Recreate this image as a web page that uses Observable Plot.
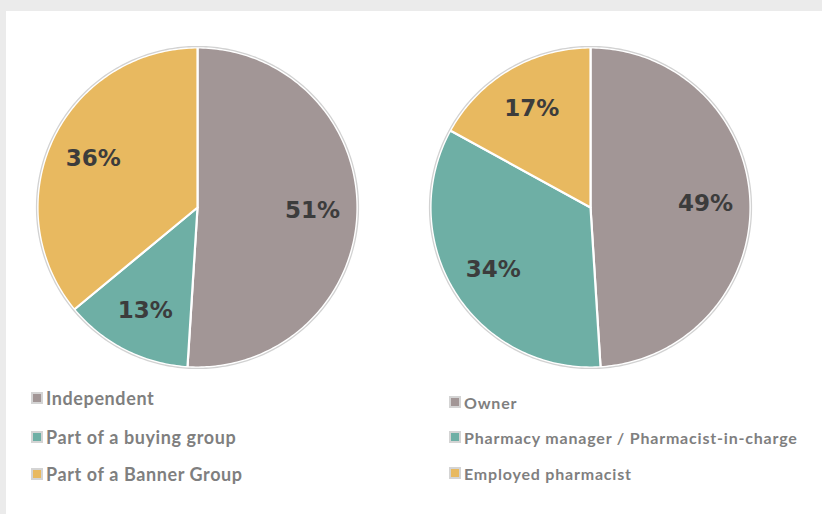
<!DOCTYPE html>
<html>
<head>
<meta charset="utf-8">
<script src="https://cdn.jsdelivr.net/npm/d3@7"></script>
<script src="https://cdn.jsdelivr.net/npm/@observablehq/plot@0.6"></script>
<style>
  html, body { margin: 0; padding: 0; width: 822px; height: 514px; overflow: hidden; background: #ebebeb; }
  #panel { position: absolute; left: 6px; top: 11px; width: 816px; height: 503px; background: #ffffff; }
  .pie { position: absolute; top: 42px; }
  .legend { position: absolute; font-family: Lato, "DejaVu Sans", sans-serif; font-weight: 700; color: #7f7f7f; }
  .legend .row { position: absolute; white-space: nowrap; display: flex; align-items: center; height: 20px; }
  .legend .sw { width: 8px; height: 8px; border: 2px solid #d4d4d4; margin-right: 3px; box-sizing: content-box; }
  #legL { font-size: 18px; letter-spacing: 0.6px; }
  #legR { font-size: 16px; letter-spacing: 0.8px; }
</style>
</head>
<body>
<div id="panel"></div>
<div id="pieL" class="pie" style="left:32px"></div>
<div id="pieR" class="pie" style="left:425px"></div>
<div id="legL" class="legend" style="left:31px;top:388px"></div>
<div id="legR" class="legend" style="left:449px;top:388px"></div>
<script>
// ---- data ----
const leftCategories = ["Independent", "Part of a buying group", "Part of a Banner Group"];
const leftValues = [51, 13, 36];
const rightCategories = ["Owner", "Pharmacy manager / Pharmacist-in-charge", "Employed pharmacist"];
const rightValues = [49, 34, 17];
const sliceColors = ["#a29696", "#6eafa5", "#e8b960"];

function slicePoints(categories, values) {
  const arcs = d3.pie().sort(null).value(d => d)(values);
  const pts = [];
  const labels = [];
  arcs.forEach((a, i) => {
    const key = categories[i];
    pts.push({key, x: 0, y: 0});
    const n = Math.max(2, Math.ceil((a.endAngle - a.startAngle) / (Math.PI / 180)));
    for (let k = 0; k <= n; k++) {
      const t = a.startAngle + (a.endAngle - a.startAngle) * k / n;
      pts.push({key, x: Math.sin(t), y: Math.cos(t)});
    }
    pts.push({key, x: 0, y: 0});
    const m = (a.startAngle + a.endAngle) / 2;
    labels.push({key, x: 0.72 * Math.sin(m), y: 0.72 * Math.cos(m), text: values[i] + "%"});
  });
  return {pts, labels};
}

function circlePoints(r) {
  return d3.range(0, 361).map(d => ({x: r * Math.sin(d * Math.PI / 180), y: r * Math.cos(d * Math.PI / 180)}));
}

function drawPie(el, categories, values) {
  const {pts, labels} = slicePoints(categories, values);
  const ext = 165 / 160;
  const chart = Plot.plot({
    width: 330, height: 330,
    margin: 0,
    x: {domain: [-ext, ext], axis: null},
    y: {domain: [-ext, ext], axis: null},
    color: {domain: categories, range: sliceColors},
    style: {background: "transparent"},
    marks: [
      Plot.line(pts, {x: "x", y: "y", z: "key", fill: "key", stroke: "white", strokeWidth: 2.2, strokeLinejoin: "round", curve: "linear"}),
      Plot.line(circlePoints(1.006), {x: "x", y: "y", stroke: "#d2d2d2", strokeWidth: 1.3}),
      Plot.text(labels, {x: "x", y: "y", text: "text", fill: "#3c3c3c", fontSize: 23, fontWeight: 700, fontFamily: "'DejaVu Sans', sans-serif", textAnchor: "middle"})
    ]
  });
  document.getElementById(el).appendChild(chart);
}

function drawLegend(el, categories, tops) {
  const host = document.getElementById(el);
  categories.forEach((c, i) => {
    const row = document.createElement("div");
    row.className = "row";
    row.style.top = tops[i] + "px";
    const sw = document.createElement("span");
    sw.className = "sw";
    sw.style.background = sliceColors[i];
    row.appendChild(sw);
    row.appendChild(document.createTextNode(c));
    host.appendChild(row);
  });
}

drawPie("pieL", leftCategories, leftValues);
drawPie("pieR", rightCategories, rightValues);
drawLegend("legL", leftCategories, [0, 39, 76]);
drawLegend("legR", rightCategories, [4, 39, 75]);
</script>
</body>
</html>
